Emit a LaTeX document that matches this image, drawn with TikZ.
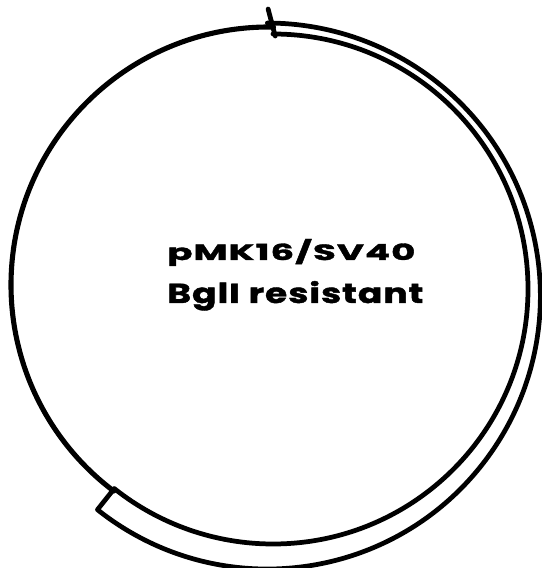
\documentclass[tikz,border=0pt]{standalone}
\usepackage{fontspec}
\usepackage{graphicx}
\newfontfamily\mapfont{Poppins}[BoldFont={Poppins Bold}, BoldFeatures={FakeBold=1.5}, LetterSpace=3]
\tikzset{
  backbone/.style={line width=2.9pt, line cap=round, line join=round},
  insert/.style={line width=2.7pt, line cap=round, line join=round},
  maplabel/.style={font=\mapfont\bfseries\fontsize{17}{20}\selectfont, inner sep=0pt, anchor=base west}
}
\begin{document}
\begin{tikzpicture}[x=0.02cm, y=0.02cm]
  \useasboundingbox (0,0) rectangle (541,568);
  \coordinate (O) at (269,283);   % backbone centre
  \coordinate (S) at (273,279);   % insert centre

  % plasmid backbone
  \draw[backbone] ([shift={(89:258)}]O) arc[start angle=89, end angle=233, radius=258];

  % SV40 insert
  \draw[insert] ([shift={(90:255)}]S) arc[start angle=90, end angle=-128.5, radius=255]
    -- ([shift={(-128.5:282)}]S) arc[start angle=-128.5, end angle=90, radius=273];
  \draw[insert] ([shift={(89.5:253)}]S) -- ([shift={(91:280)}]S);

  \node[maplabel] (name) at (167,308) {\resizebox{4.96cm}{0.42cm}{pMK16/SV40}};
  \node[maplabel] (enzyme) at (167,265) {\resizebox{5.12cm}{0.44cm}{BglI resistant}};
\end{tikzpicture}
\end{document}
